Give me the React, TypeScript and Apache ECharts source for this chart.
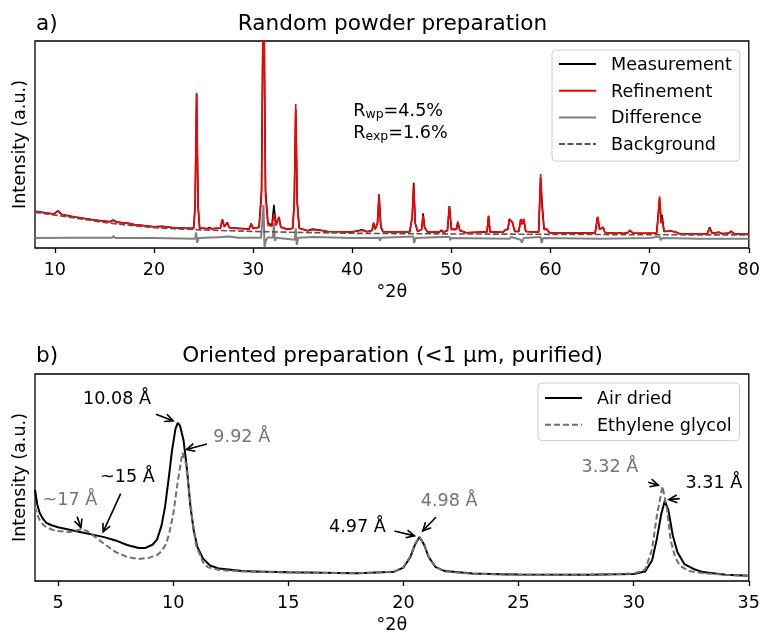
import React, { useEffect, useRef } from 'react';
import * as echarts from 'echarts';

// ---------- Panel a) Random powder preparation ----------
const topTicks = [10, 20, 30, 40, 50, 60, 70, 80];

const measurement: number[][] = [
  [8, 17.7], [9, 17.0], [9.9, 16.4], [10.3, 17.9], [10.7, 16.2], [12, 15.0], [14, 13.5], [15.6, 12.7], [15.9, 13.6], [16.2, 12.5],
  [17.4, 11.9], [18, 11.3], [20, 10.3], [20.8, 10.5], [22, 9.8], [23, 9.6], [24.0, 9.5], [24.15, 20], [24.3, 74.5], [24.45, 20],
  [24.6, 9.7], [25.4, 9.3], [25.6, 9.9], [25.8, 9.3], [26.7, 9.6], [26.9, 13.8], [27.1, 10.2], [27.4, 12.3], [27.6, 9.8], [28.3, 9.6],
  [29.6, 9.2], [29.8, 11.8], [30.0, 9.4], [30.6, 10], [30.85, 28], [31.05, 140], [31.25, 28], [31.5, 12], [31.9, 11], [32.1, 20.8],
  [32.3, 11], [32.6, 15], [32.8, 10], [33.5, 9], [34.0, 9.5], [34.15, 22], [34.3, 67], [34.45, 22], [34.65, 9.5], [35.5, 8.3],
  [36.0, 9.2], [36.8, 8.6], [37.5, 8.0], [40, 7.7], [41.0, 8.8], [41.5, 7.8], [42.0, 8.5], [42.15, 12.2], [42.3, 9], [42.55, 12],
  [42.7, 26], [42.8, 17.5], [42.9, 10], [43.1, 7.9], [45.8, 7.8], [46.05, 15], [46.2, 31.5], [46.35, 12], [46.6, 8], [47.0, 9],
  [47.15, 16.8], [47.3, 10], [47.6, 7.7], [48.8, 7.8], [49.0, 8.7], [49.2, 7.6], [49.6, 8.5], [49.8, 20.3], [50.0, 9], [50.5, 9],
  [50.65, 12.6], [50.85, 8.5], [51.5, 7.4], [53.6, 7.8], [53.75, 15.5], [53.9, 7.8], [55.2, 7.6], [55.45, 8.8], [55.7, 9], [55.85, 14],
  [56.15, 12.4], [56.4, 8], [56.8, 8], [57.0, 14], [57.15, 11.5], [57.3, 14], [57.5, 8], [58.8, 7.6], [59.0, 34], [59.15, 21.7],
  [59.35, 9], [59.6, 9.2], [59.9, 7.4], [64.5, 7.2], [64.75, 15], [64.95, 9], [65.3, 10], [65.5, 7.4], [66.8, 7.1], [67.0, 7.4],
  [67.3, 7.0], [67.8, 7.4], [68.0, 8.6], [68.3, 7.2], [70.7, 7.1], [70.85, 15], [71.0, 24], [71.15, 12], [71.25, 16], [71.45, 8],
  [72.1, 8.2], [72.6, 7.7], [73, 6.9], [75.8, 6.8], [76.05, 10], [76.3, 7.1], [77.0, 7.6], [77.3, 6.9], [78.0, 7.2], [78.2, 8.1],
  [78.5, 6.9], [80, 6.6],
];

const refinement: number[][] = [
  [8, 17.7], [9, 17.0], [9.9, 16.4], [10.3, 17.9], [10.7, 16.2], [12, 15.0], [14, 13.5], [15.6, 12.7], [15.9, 13.3], [16.2, 12.5],
  [17.4, 11.9], [18, 11.3], [20, 10.3], [20.8, 10.4], [22, 9.8], [23, 9.6], [24.0, 9.5], [24.15, 20], [24.3, 74.9], [24.45, 20],
  [24.6, 9.7], [25.6, 9.3], [26.7, 9.6], [26.9, 13.5], [27.1, 10.2], [27.4, 12.1], [27.6, 9.8], [28.3, 9.4], [29.6, 9.2], [29.8, 11.6],
  [30.0, 9.4], [30.6, 10], [30.85, 25], [31.05, 140], [31.25, 25], [31.5, 11], [31.9, 10.5], [32.1, 16.4], [32.3, 11], [32.6, 15],
  [32.8, 10], [33.5, 9], [34.0, 9.5], [34.15, 22], [34.3, 69.6], [34.45, 22], [34.65, 9.5], [35.5, 8.3], [36.0, 8.8], [36.8, 8.6],
  [37.5, 8.0], [40, 7.7], [41.0, 8.6], [41.5, 7.8], [42.0, 8.5], [42.15, 12], [42.3, 9], [42.55, 12], [42.7, 26], [42.85, 11],
  [43.1, 7.9], [45.8, 7.8], [46.05, 15], [46.2, 30.5], [46.35, 12], [46.6, 8], [47.0, 9], [47.15, 15.5], [47.3, 10], [47.6, 7.7],
  [48.8, 7.8], [49.0, 8.3], [49.2, 7.6], [49.6, 8.5], [49.8, 20.3], [50.0, 9], [50.5, 9], [50.65, 12.6], [50.85, 8.5], [51.5, 7.4],
  [53.6, 7.8], [53.75, 15.5], [53.9, 7.8], [55.2, 7.6], [55.45, 8.8], [55.7, 9], [55.85, 14], [56.15, 12.4], [56.4, 8], [56.8, 8],
  [57.0, 14], [57.15, 11.5], [57.3, 14], [57.5, 8], [58.8, 7.6], [59.0, 35.7], [59.15, 19], [59.35, 9], [59.6, 9.2], [59.9, 7.4],
  [64.5, 7.2], [64.75, 15], [64.95, 9], [65.3, 10], [65.5, 7.4], [66.8, 7.1], [67.0, 7.4], [67.3, 7.0], [67.8, 7.4], [68.0, 8.6],
  [68.3, 7.2], [70.7, 7.1], [70.85, 15], [71.0, 25], [71.15, 12], [71.25, 14], [71.45, 8], [72.1, 8.2], [72.6, 7.7], [73, 6.9],
  [75.8, 6.8], [76.05, 9.6], [76.3, 7.1], [77.0, 7.6], [77.3, 6.9], [78.0, 7.2], [78.2, 8.1], [78.5, 6.9], [80, 6.6],
];

const difference: number[][] = [
  [8, 4.8], [12, 4.9], [15.8, 4.9], [15.9, 5.8], [16.1, 4.8], [20, 4.8], [24.15, 4.5], [24.25, 7.5], [24.35, 2.5], [24.5, 4.8],
  [26.5, 5.2], [27.5, 5.6], [28.5, 5.0], [30.8, 5.0], [30.95, 14], [31.05, 20.8], [31.15, 0.5], [31.3, 3.8], [31.5, 5.2], [32.0, 5],
  [32.1, 12], [32.2, 3.5], [32.35, 5], [34.2, 4], [34.3, 9.5], [34.4, 1.5], [34.55, 5], [36, 5.3], [40, 4.8], [42.7, 5],
  [42.8, 3.5], [42.9, 5], [46.15, 5.5], [46.25, 2.4], [46.4, 4.8], [49.8, 5.4], [49.9, 3.8], [50, 4.8], [55.9, 4.5], [56, 5.3],
  [57.0, 4], [57.1, 2.6], [57.3, 4.8], [59.0, 5.3], [59.1, 2.4], [59.25, 4.8], [65, 4.5], [70, 4.8], [71, 5.5], [71.1, 3.8],
  [71.3, 4.8], [75, 4.5], [80, 4.5],
];

const background: number[][] = [
  [8, 17.2], [10, 15.9], [12, 14.5], [15, 12.3], [18, 10.7], [20, 9.8], [22, 9.3], [25, 8.7], [30, 8.0], [35, 7.5],
  [40, 7.1], [50, 6.8], [60, 6.6], [70, 6.4], [80, 6.3],
];

// ---------- Panel b) Oriented preparation ----------
const bottomTicks = [5, 10, 15, 20, 25, 30, 35];

const airDried: number[][] = [
  [4, 44], [4.1, 37], [4.2, 33], [4.35, 30], [4.5, 28], [4.75, 26.8], [5, 26], [5.5, 24.8], [6, 23.6], [6.5, 22.4],
  [7, 21.2], [7.5, 19.6], [8, 17.4], [8.5, 15.9], [8.8, 16], [9.1, 17.5], [9.3, 20], [9.5, 27], [9.65, 36], [9.8, 49],
  [9.95, 63], [10.1, 73.5], [10.2, 76.4], [10.3, 75], [10.45, 68], [10.6, 54], [10.75, 36], [10.9, 24], [11.05, 16.5], [11.3, 10.8],
  [11.6, 7.5], [12, 6], [13, 4.8], [15, 4.2], [18, 3.8], [19.6, 4.5], [20.0, 6.5], [20.3, 11.5], [20.5, 17.5], [20.7, 21.3],
  [20.9, 17.5], [21.1, 11.5], [21.4, 6.7], [21.8, 4.8], [23, 3.6], [25, 3.1], [28, 3.0], [30, 3.4], [30.5, 4.6], [30.8, 10],
  [31.0, 20], [31.2, 32.5], [31.35, 38.6], [31.5, 34.6], [31.7, 22], [31.9, 13.9], [32.2, 8.2], [32.6, 5.8], [33, 4.3], [34, 3.0],
  [35, 2.5],
];

const ethyleneGlycol: number[][] = [
  [4, 36], [4.1, 32], [4.2, 29.5], [4.35, 27.2], [4.5, 26], [4.75, 24.8], [5, 24.2], [5.5, 23.6], [5.8, 24.4], [6, 25],
  [6.25, 24.2], [6.5, 22.2], [7, 18], [7.5, 14], [8, 11.6], [8.5, 10.6], [9, 11.4], [9.3, 12.5], [9.5, 14.4], [9.7, 18],
  [9.85, 24], [10.0, 32], [10.2, 48], [10.4, 62], [10.55, 57], [10.7, 43], [10.85, 28], [11, 17], [11.3, 9], [11.5, 6.7],
  [12, 5.3], [13, 4.6], [15, 4.1], [18, 3.7], [19.6, 4.5], [20.0, 6.7], [20.3, 12], [20.5, 17.8], [20.7, 21.3], [20.9, 17.8],
  [21.1, 11.5], [21.4, 6.7], [21.8, 4.6], [23, 3.5], [25, 3.0], [28, 3.0], [30, 3.6], [30.5, 5.5], [30.8, 15.4], [31.0, 31],
  [31.25, 45.7], [31.45, 34.6], [31.6, 20], [31.8, 11.5], [32.0, 7.4], [32.4, 4.8], [33, 3.8], [34, 3.0], [35, 2.5],
];

// annotations (data coordinates of the lower panel)
const GREY_TXT = '#757575';
const bottomLabels = [
  { text: '10.08 Å', at: [7.56, 88.5], color: '#000' },
  { text: '9.92 Å', at: [12.98, 70.2], color: GREY_TXT },
  { text: '~15 Å', at: [8.01, 50.6], color: '#000' },
  { text: '~17 Å', at: [5.52, 39.4], color: GREY_TXT },
  { text: '4.97 Å', at: [18.0, 26.6], color: '#000' },
  { text: '4.98 Å', at: [21.99, 39.1], color: GREY_TXT },
  { text: '3.32 Å', at: [28.97, 55.4], color: GREY_TXT },
  { text: '3.31 Å', at: [33.48, 47.9], color: '#000' },
];
const bottomArrows = [
  [[9.25, 80.6], [10.0, 77.4]],
  [[11.47, 66.2], [10.58, 63.5]],
  [[7.72, 42.2], [6.96, 23.7]],
  [[5.83, 31.1], [5.99, 25.8]],
  [[19.61, 24.2], [20.48, 21.8]],
  [[21.42, 30.9], [20.84, 24.2]],
  [[30.63, 47.7], [31.07, 46.3]],
  [[32.0, 39.8], [31.53, 39.3]],
];
const rLabelAt = [40.1, 66.7];
const rLabel2At = [40.1, 56.0];

const FONT = 'DejaVu Sans';
const FS = 17.6;
const TFS = 21.6;

function xAxisCfg(grid: number, min: number, max: number, ticks: number[]) {
  return {
    type: 'value', gridIndex: grid, min, max,
    name: '°2θ', nameLocation: 'middle', nameGap: 34,
    nameTextStyle: { fontSize: FS, color: '#000', fontFamily: FONT },
    axisLine: { show: false },
    axisTick: { show: true, length: 5, lineStyle: { color: '#000', width: 1.3 }, customValues: ticks },
    axisLabel: { fontSize: FS, color: '#000', margin: 12, fontFamily: FONT, customValues: ticks },
    splitLine: { show: false },
  };
}
function yAxisCfg(grid: number) {
  return {
    type: 'value', gridIndex: grid, min: 0, max: 100,
    name: 'Intensity (a.u.)', nameLocation: 'middle', nameGap: 7,
    nameTextStyle: { fontSize: FS, color: '#000', fontFamily: FONT },
    axisLine: { show: false }, axisTick: { show: false }, axisLabel: { show: false },
    splitLine: { show: false },
  };
}
function legendCfg(names: string[], left: number, top: number, padding: number[]) {
  return {
    data: names, orient: 'vertical', left, top,
    padding, itemWidth: 37, itemHeight: 14, itemGap: 8.7,
    selectedMode: false,
    itemStyle: { opacity: 0 },
    borderColor: '#cccccc', borderWidth: 1, borderRadius: 4,
    backgroundColor: 'rgba(255,255,255,0.85)',
    textStyle: { fontSize: FS, lineHeight: 18, color: '#000', fontFamily: FONT, padding: [0, 0, 0, 10] },
  };
}

export default function App() {
  const ref = useRef<HTMLDivElement>(null);
  useEffect(() => {
    const chart = echarts.init(ref.current as HTMLDivElement, null, { renderer: 'svg' });
    const line = (name: string, data: number[][], color: string, width: number, grid: number, dash: number[] | null = null, z = 2) => ({
      name, type: 'line', data, xAxisIndex: grid, yAxisIndex: grid, symbol: 'none', showSymbol: false,
      lineStyle: { color, width, type: dash ? dash : 'solid' }, itemStyle: { color }, z, clip: true,
    });
    const titleStyle = { fontSize: TFS, fontWeight: 'normal', color: '#000', fontFamily: FONT };
    chart.setOption({
      animation: false,
      textStyle: { fontFamily: FONT },
      title: [
        { text: 'a)', left: 36, top: 11, padding: 0, textStyle: titleStyle },
        { text: 'Random powder preparation', left: 392.5, textAlign: 'center', top: 11, padding: 0, textStyle: titleStyle },
        { text: 'b)', left: 36, top: 343, padding: 0, textStyle: titleStyle },
        { text: 'Oriented preparation (<1 µm, purified)', left: 392.5, textAlign: 'center', top: 343, padding: 0, textStyle: titleStyle },
      ],
      grid: [
        { left: 35, top: 41, width: 715, height: 207, show: true, borderColor: '#000', borderWidth: 1.3, backgroundColor: 'transparent' },
        { left: 35, top: 374, width: 715, height: 208, show: true, borderColor: '#000', borderWidth: 1.3, backgroundColor: 'transparent' },
      ],
      xAxis: [xAxisCfg(0, 8, 80, topTicks), xAxisCfg(1, 4, 35, bottomTicks)],
      yAxis: [yAxisCfg(0), yAxisCfg(1)],
      legend: [
        legendCfg(['Measurement', 'Refinement', 'Difference', 'Background'], 552, 50, [5, 8, 8, 6]),
        legendCfg(['Air dried', 'Ethylene glycol'], 538, 383, [6, 8, 7, 6]),
      ],
      series: [
        line('Measurement', measurement, '#000000', 1.6, 0),
        line('Refinement', refinement, '#ff0000', 1.6, 0),
        line('Difference', difference, '#808080', 2, 0),
        line('Background', background, '#555555', 1.6, 0, [6, 2.5]),
        line('Air dried', airDried, '#000000', 2, 1),
        line('Ethylene glycol', ethyleneGlycol, '#707070', 2, 1, [6, 3]),
      ],
    });

    const graphics: any[] = [];
    const px = (g: number, p: number[]) => chart.convertToPixel({ gridIndex: g }, p) as number[];
    bottomLabels.forEach((l) => {
      const p = px(1, l.at);
      graphics.push({ type: 'text', x: p[0], y: p[1], z: 10,
        style: { text: l.text, fill: l.color, fontSize: FS, fontFamily: FONT, align: 'center', verticalAlign: 'middle' } });
    });
    bottomArrows.forEach(([a, b]) => {
      const t = px(1, a), h = px(1, b);
      const ang = Math.atan2(h[1] - t[1], h[0] - t[0]);
      const L = 9, w = 0.45;
      const p1 = [h[0] - L * Math.cos(ang - w), h[1] - L * Math.sin(ang - w)];
      const p2 = [h[0] - L * Math.cos(ang + w), h[1] - L * Math.sin(ang + w)];
      graphics.push({ type: 'line', z: 10, shape: { x1: t[0], y1: t[1], x2: h[0], y2: h[1] }, style: { stroke: '#000', lineWidth: 1.6 } });
      graphics.push({ type: 'polyline', z: 10, shape: { points: [p1, h, p2] }, style: { stroke: '#000', lineWidth: 1.6, fill: null } });
    });
    const r1 = px(0, rLabelAt), r2 = px(0, rLabel2At);
    const rich = {
      a: { fontSize: FS, fontFamily: FONT, fill: '#000', lineHeight: 20, verticalAlign: 'middle' },
      s: { fontSize: 12.5, fontFamily: FONT, fill: '#000', lineHeight: 20, verticalAlign: 'bottom', padding: [6, 0, 0, 0] },
    };
    graphics.push({ type: 'text', x: r1[0], y: r1[1], z: 10, style: { text: '{a|R}{s|wp}{a|=4.5%}', rich, verticalAlign: 'middle', align: 'left' } });
    graphics.push({ type: 'text', x: r2[0], y: r2[1], z: 10, style: { text: '{a|R}{s|exp}{a|=1.6%}', rich, verticalAlign: 'middle', align: 'left' } });
    chart.setOption({ graphic: graphics });

    return () => chart.dispose();
  }, []);
  return <div ref={ref} style={{ position: 'fixed', left: 0, top: 0, width: 763, height: 634 }} />;
}
